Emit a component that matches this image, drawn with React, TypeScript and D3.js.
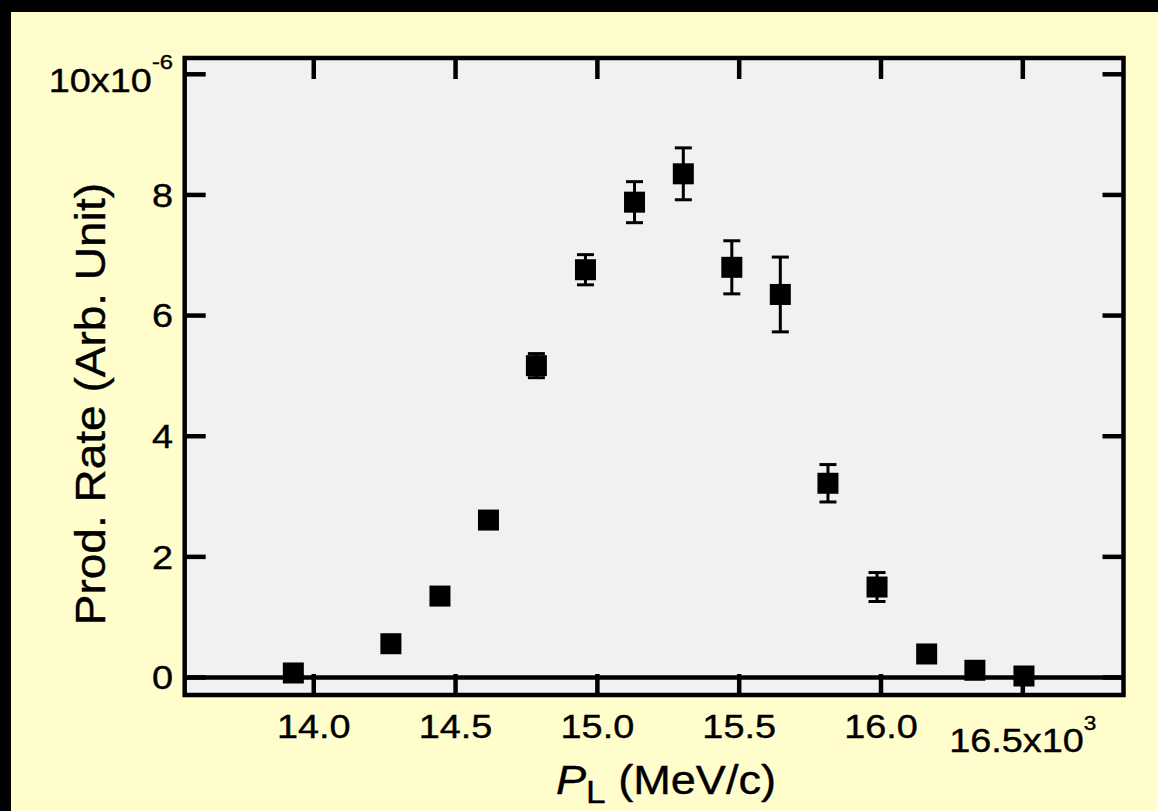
import React from "react";
import * as d3 from "d3";

// Data (momentum in 10^3 MeV/c, rate in 10^-6 arb. unit)
const momentum = [13.928, 14.272, 14.445, 14.616, 14.785, 14.958, 15.131, 15.303, 15.474, 15.645, 15.813, 15.986, 16.161, 16.331, 16.504];
const rate = [0.075, 0.56, 1.35, 2.61, 5.17, 6.76, 7.88, 8.35, 6.8, 6.35, 3.22, 1.5, 0.39, 0.12, 0.025];
const rateErr = [0.05, 0.08, 0.1, 0.12, 0.2, 0.25, 0.34, 0.43, 0.44, 0.62, 0.31, 0.24, 0.1, 0.08, 0.06];

const xTicks = [14.0, 14.5, 15.0, 15.5, 16.0, 16.5];
const xTickLabels = ["14.0", "14.5", "15.0", "15.5", "16.0", "16.5x10"];
const yTicks = [0, 2, 4, 6, 8, 10];
const yTickLabels = ["0", "2", "4", "6", "8", "10x10"];

const W = 1158;
const H = 811;
const FONT = "'Liberation Sans', Arial, Helvetica, sans-serif";
const SX = 1.13;

export default function App() {
  const x = d3.scaleLinear().domain([13.545, 16.855]).range([184.7, 1123.5]);
  const y = d3.scaleLinear().domain([-0.29, 10.27]).range([695, 58]);
  const [x0, x1] = x.range();
  const [yb, yt] = y.range();
  const tickLen = 21;
  const axisW = 4.5;
  const sq = 21;
  const cap = 8.5;
  const textStroke = { stroke: "#000", strokeWidth: 0.4 };

  return (
    <svg width={W} height={H} style={{ position: "absolute", left: 0, top: 0 }} fontFamily={FONT}>
      <rect x={0} y={0} width={W} height={H} fill="#FFFDCC" />
      <rect x={0} y={0} width={W} height={12} fill="#000" />
      <rect x={0} y={0} width={11} height={H} fill="#000" />
      <rect x={x0} y={yt} width={x1 - x0} height={yb - yt} fill="#F1F1F1" />

      {/* zero line */}
      <line x1={x0} x2={x1} y1={y(0)} y2={y(0)} stroke="#000" strokeWidth={axisW} />

      {/* ticks */}
      {xTicks.map((t, i) => (
        <g key={"xt" + i}>
          <line x1={x(t)} x2={x(t)} y1={yb} y2={yb - tickLen} stroke="#000" strokeWidth={axisW} />
          <line x1={x(t)} x2={x(t)} y1={yt} y2={yt + tickLen} stroke="#000" strokeWidth={axisW} />
        </g>
      ))}
      {yTicks.map((t, i) => (
        <g key={"yt" + i}>
          <line x1={x0} x2={x0 + tickLen} y1={y(t)} y2={y(t)} stroke="#000" strokeWidth={axisW} />
          <line x1={x1} x2={x1 - tickLen} y1={y(t)} y2={y(t)} stroke="#000" strokeWidth={axisW} />
        </g>
      ))}

      {/* frame */}
      <rect x={x0} y={yt} width={x1 - x0} height={yb - yt} fill="none" stroke="#000" strokeWidth={axisW} />

      {/* x tick labels */}
      {xTicks.map((t, i) => {
        const last = i === xTicks.length - 1;
        return (
          <g key={"xl" + i} transform={`translate(${x(t)},${738 + (last ? 14 : 0)}) scale(${SX},1)`}>
            <text textAnchor="middle" fontSize={33.5} fill="#000" {...textStroke}>
              {xTickLabels[i]}
              {last && (
                <tspan dy={-22} fontSize={20}>
                  3
                </tspan>
              )}
            </text>
          </g>
        );
      })}

      {/* y tick labels */}
      {yTicks.map((t, i) => {
        const last = i === yTicks.length - 1;
        return (
          <g key={"yl" + i} transform={`translate(173,${y(t) + (last ? 17.4 : 11.8)}) scale(${SX},1)`}>
            <text textAnchor="end" fontSize={33.5} fill="#000" {...textStroke}>
              {yTickLabels[i]}
              {last && (
                <tspan dy={-23} fontSize={21}>
                  -6
                </tspan>
              )}
            </text>
          </g>
        );
      })}

      {/* axis titles */}
      <g transform={`translate(666,794) scale(1.1,1)`}>
        <text textAnchor="middle" fontSize={41} fill="#000" {...textStroke}>
          <tspan fontStyle="italic">P</tspan>
          <tspan fontSize={32} dy={9}>L</tspan>
          <tspan dy={-9}> (MeV/c)</tspan>
        </text>
      </g>
      <g transform={`translate(105,183) rotate(-90) scale(1.07,1)`}>
        <text textAnchor="end" fontSize={43} fill="#000" {...textStroke}>
          Prod. Rate (Arb. Unit)
        </text>
      </g>

      {/* error bars and markers */}
      {momentum.map((m, i) => {
        const cx = x(m);
        const cy = y(rate[i]);
        const top = y(rate[i] + rateErr[i]);
        const bot = y(rate[i] - rateErr[i]);
        return (
          <g key={"p" + i}>
            <line x1={cx} x2={cx} y1={top} y2={bot} stroke="#000" strokeWidth={3} />
            <line x1={cx - cap} x2={cx + cap} y1={top} y2={top} stroke="#000" strokeWidth={3} />
            <line x1={cx - cap} x2={cx + cap} y1={bot} y2={bot} stroke="#000" strokeWidth={3} />
            <rect x={cx - sq / 2} y={cy - sq / 2} width={sq} height={sq} fill="#000" />
          </g>
        );
      })}
    </svg>
  );
}
